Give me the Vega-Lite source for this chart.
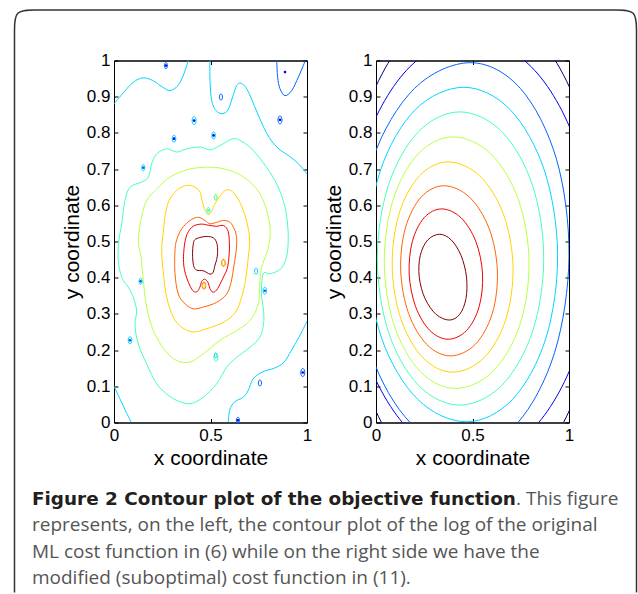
{
"$schema": "https://vega.github.io/schema/vega-lite/v6.json",
"padding": {"left": 11, "top": 6.5, "right": 0, "bottom": 0},
"background": "white",
"config": {
 "view": {"stroke": "black", "strokeWidth": 1},
 "axis": {"labelFont": "Liberation Sans", "titleFont": "Liberation Sans", "labelFontSize": 17, "titleFontSize": 21, "titleFontWeight": "normal", "labelColor": "black", "titleColor": "black", "domainColor": "black", "tickColor": "black", "grid": false, "domainWidth": 1, "tickWidth": 1}
},
"datasets": {
 "ax": [{"x": 0, "y": 0}, {"x": 1, "y": 1}],
 "lo": [
  {"id":"c1","k":3,"i":0,"x":0,"y":0.88},{"id":"c1","k":3,"i":1,"x":0.05,"y":0.912},{"id":"c1","k":3,"i":2,"x":0.1,"y":0.94},{"id":"c1","k":3,"i":3,"x":0.15,"y":0.952},{"id":"c1","k":3,"i":4,"x":0.2,"y":0.945},{"id":"c1","k":3,"i":5,"x":0.25,"y":0.927},{"id":"c1","k":3,"i":6,"x":0.29,"y":0.917},{"id":"c1","k":3,"i":7,"x":0.33,"y":0.93},{"id":"c1","k":3,"i":8,"x":0.36,"y":0.96},{"id":"c1","k":3,"i":9,"x":0.385,"y":1.0},
  {"id":"c2","k":3,"i":0,"x":0.497,"y":1.0},{"id":"c2","k":3,"i":1,"x":0.497,"y":0.955},{"id":"c2","k":3,"i":2,"x":0.503,"y":0.9},{"id":"c2","k":3,"i":3,"x":0.52,"y":0.868},{"id":"c2","k":3,"i":4,"x":0.555,"y":0.853},{"id":"c2","k":3,"i":5,"x":0.59,"y":0.863},{"id":"c2","k":3,"i":6,"x":0.615,"y":0.9},{"id":"c2","k":3,"i":7,"x":0.635,"y":0.93},{"id":"c2","k":3,"i":8,"x":0.658,"y":0.937},{"id":"c2","k":3,"i":9,"x":0.69,"y":0.92},{"id":"c2","k":3,"i":10,"x":0.735,"y":0.865},{"id":"c2","k":3,"i":11,"x":0.79,"y":0.8},{"id":"c2","k":3,"i":12,"x":0.845,"y":0.76},{"id":"c2","k":3,"i":13,"x":0.91,"y":0.735},{"id":"c2","k":3,"i":14,"x":0.955,"y":0.715},{"id":"c2","k":3,"i":15,"x":1.0,"y":0.687},
  {"id":"c3","k":3,"i":0,"x":0,"y":0.1},{"id":"c3","k":3,"i":1,"x":0.03,"y":0.066},{"id":"c3","k":3,"i":2,"x":0.06,"y":0.032},{"id":"c3","k":3,"i":3,"x":0.09,"y":0},
  {"id":"c4","k":3,"i":0,"x":0.592,"y":0},{"id":"c4","k":3,"i":1,"x":0.6,"y":0.035},{"id":"c4","k":3,"i":2,"x":0.625,"y":0.057},{"id":"c4","k":3,"i":3,"x":0.67,"y":0.07},{"id":"c4","k":3,"i":4,"x":0.697,"y":0.09},{"id":"c4","k":3,"i":5,"x":0.72,"y":0.12},{"id":"c4","k":3,"i":6,"x":0.77,"y":0.14},{"id":"c4","k":3,"i":7,"x":0.83,"y":0.15},{"id":"c4","k":3,"i":8,"x":0.88,"y":0.166},{"id":"c4","k":3,"i":9,"x":0.92,"y":0.2},{"id":"c4","k":3,"i":10,"x":0.965,"y":0.242},{"id":"c4","k":3,"i":11,"x":1.0,"y":0.28},
  {"id":"c5","k":2,"i":0,"x":0.843,"y":1.0},{"id":"c5","k":2,"i":1,"x":0.848,"y":0.954},{"id":"c5","k":2,"i":2,"x":0.86,"y":0.922},{"id":"c5","k":2,"i":3,"x":0.886,"y":0.903},{"id":"c5","k":2,"i":4,"x":0.921,"y":0.917},{"id":"c5","k":2,"i":5,"x":0.955,"y":0.954},{"id":"c5","k":2,"i":6,"x":0.981,"y":0.986},{"id":"c5","k":2,"i":7,"x":0.99,"y":1.0}
 ],
 "lr": [
  {"id":"a","k":4,"i":0,"x":0.025,"y":0.5},{"id":"a","k":4,"i":1,"x":0.04,"y":0.55},{"id":"a","k":4,"i":2,"x":0.057,"y":0.613},{"id":"a","k":4,"i":3,"x":0.083,"y":0.65},{"id":"a","k":4,"i":4,"x":0.143,"y":0.664},{"id":"a","k":4,"i":5,"x":0.178,"y":0.678},{"id":"a","k":4,"i":6,"x":0.195,"y":0.715},{"id":"a","k":4,"i":7,"x":0.221,"y":0.742},{"id":"a","k":4,"i":8,"x":0.273,"y":0.756},{"id":"a","k":4,"i":9,"x":0.325,"y":0.747},{"id":"a","k":4,"i":10,"x":0.377,"y":0.756},{"id":"a","k":4,"i":11,"x":0.446,"y":0.761},{"id":"a","k":4,"i":12,"x":0.497,"y":0.753},{"id":"a","k":4,"i":13,"x":0.549,"y":0.765},{"id":"a","k":4,"i":14,"x":0.618,"y":0.784},{"id":"a","k":4,"i":15,"x":0.67,"y":0.774},{"id":"a","k":4,"i":16,"x":0.722,"y":0.751},{"id":"a","k":4,"i":17,"x":0.791,"y":0.705},{"id":"a","k":4,"i":18,"x":0.843,"y":0.659},{"id":"a","k":4,"i":19,"x":0.877,"y":0.613},{"id":"a","k":4,"i":20,"x":0.895,"y":0.567},{"id":"a","k":4,"i":21,"x":0.903,"y":0.512},{"id":"a","k":4,"i":22,"x":0.895,"y":0.46},{"id":"a","k":4,"i":23,"x":0.865,"y":0.425},{"id":"a","k":4,"i":24,"x":0.81,"y":0.411},{"id":"a","k":4,"i":25,"x":0.775,"y":0.413},{"id":"a","k":4,"i":26,"x":0.765,"y":0.383},{"id":"a","k":4,"i":27,"x":0.765,"y":0.346},{"id":"a","k":4,"i":28,"x":0.775,"y":0.309},{"id":"a","k":4,"i":29,"x":0.775,"y":0.273},{"id":"a","k":4,"i":30,"x":0.756,"y":0.236},{"id":"a","k":4,"i":31,"x":0.705,"y":0.208},{"id":"a","k":4,"i":32,"x":0.636,"y":0.18},{"id":"a","k":4,"i":33,"x":0.584,"y":0.153},{"id":"a","k":4,"i":34,"x":0.532,"y":0.107},{"id":"a","k":4,"i":35,"x":0.463,"y":0.07},{"id":"a","k":4,"i":36,"x":0.394,"y":0.052},{"id":"a","k":4,"i":37,"x":0.325,"y":0.061},{"id":"a","k":4,"i":38,"x":0.273,"y":0.079},{"id":"a","k":4,"i":39,"x":0.221,"y":0.107},{"id":"a","k":4,"i":40,"x":0.169,"y":0.162},{"id":"a","k":4,"i":41,"x":0.126,"y":0.217},{"id":"a","k":4,"i":42,"x":0.109,"y":0.268},{"id":"a","k":4,"i":43,"x":0.117,"y":0.309},{"id":"a","k":4,"i":44,"x":0.1,"y":0.346},{"id":"a","k":4,"i":45,"x":0.074,"y":0.374},{"id":"a","k":4,"i":46,"x":0.04,"y":0.401},{"id":"a","k":4,"i":47,"x":0.022,"y":0.448},
  {"id":"g","k":5,"i":0,"x":0.126,"y":0.503},{"id":"g","k":5,"i":1,"x":0.143,"y":0.567},{"id":"g","k":5,"i":2,"x":0.169,"y":0.613},{"id":"g","k":5,"i":3,"x":0.221,"y":0.645},{"id":"g","k":5,"i":4,"x":0.29,"y":0.678},{"id":"g","k":5,"i":5,"x":0.377,"y":0.698},{"id":"g","k":5,"i":6,"x":0.463,"y":0.705},{"id":"g","k":5,"i":7,"x":0.549,"y":0.703},{"id":"g","k":5,"i":8,"x":0.636,"y":0.689},{"id":"g","k":5,"i":9,"x":0.705,"y":0.664},{"id":"g","k":5,"i":10,"x":0.756,"y":0.632},{"id":"g","k":5,"i":11,"x":0.791,"y":0.586},{"id":"g","k":5,"i":12,"x":0.808,"y":0.54},{"id":"g","k":5,"i":13,"x":0.806,"y":0.5},{"id":"g","k":5,"i":14,"x":0.791,"y":0.468},{"id":"g","k":5,"i":15,"x":0.765,"y":0.429},{"id":"g","k":5,"i":16,"x":0.756,"y":0.392},{"id":"g","k":5,"i":17,"x":0.748,"y":0.328},{"id":"g","k":5,"i":18,"x":0.705,"y":0.282},{"id":"g","k":5,"i":19,"x":0.636,"y":0.254},{"id":"g","k":5,"i":20,"x":0.549,"y":0.227},{"id":"g","k":5,"i":21,"x":0.463,"y":0.19},{"id":"g","k":5,"i":22,"x":0.394,"y":0.167},{"id":"g","k":5,"i":23,"x":0.325,"y":0.171},{"id":"g","k":5,"i":24,"x":0.264,"y":0.199},{"id":"g","k":5,"i":25,"x":0.204,"y":0.254},{"id":"g","k":5,"i":26,"x":0.169,"y":0.319},{"id":"g","k":5,"i":27,"x":0.152,"y":0.392},{"id":"g","k":5,"i":28,"x":0.14,"y":0.457},
  {"id":"o","k":6,"i":0,"x":0.247,"y":0.475},{"id":"o","k":6,"i":1,"x":0.256,"y":0.53},{"id":"o","k":6,"i":2,"x":0.266,"y":0.575},{"id":"o","k":6,"i":3,"x":0.285,"y":0.613},{"id":"o","k":6,"i":4,"x":0.325,"y":0.641},{"id":"o","k":6,"i":5,"x":0.377,"y":0.655},{"id":"o","k":6,"i":6,"x":0.42,"y":0.65},{"id":"o","k":6,"i":7,"x":0.446,"y":0.636},{"id":"o","k":6,"i":8,"x":0.456,"y":0.613},{"id":"o","k":6,"i":9,"x":0.472,"y":0.586},{"id":"o","k":6,"i":10,"x":0.489,"y":0.574},{"id":"o","k":6,"i":11,"x":0.506,"y":0.584},{"id":"o","k":6,"i":12,"x":0.523,"y":0.604},{"id":"o","k":6,"i":13,"x":0.549,"y":0.625},{"id":"o","k":6,"i":14,"x":0.575,"y":0.641},{"id":"o","k":6,"i":15,"x":0.605,"y":0.641},{"id":"o","k":6,"i":16,"x":0.638,"y":0.622},{"id":"o","k":6,"i":17,"x":0.67,"y":0.586},{"id":"o","k":6,"i":18,"x":0.694,"y":0.54},{"id":"o","k":6,"i":19,"x":0.703,"y":0.503},{"id":"o","k":6,"i":20,"x":0.696,"y":0.457},{"id":"o","k":6,"i":21,"x":0.681,"y":0.392},{"id":"o","k":6,"i":22,"x":0.661,"y":0.346},{"id":"o","k":6,"i":23,"x":0.63,"y":0.305},{"id":"o","k":6,"i":24,"x":0.567,"y":0.277},{"id":"o","k":6,"i":25,"x":0.48,"y":0.259},{"id":"o","k":6,"i":26,"x":0.411,"y":0.25},{"id":"o","k":6,"i":27,"x":0.351,"y":0.263},{"id":"o","k":6,"i":28,"x":0.307,"y":0.291},{"id":"o","k":6,"i":29,"x":0.273,"y":0.346},{"id":"o","k":6,"i":30,"x":0.256,"y":0.411},
  {"id":"r","k":7,"i":0,"x":0.316,"y":0.475},{"id":"r","k":7,"i":1,"x":0.325,"y":0.505},{"id":"r","k":7,"i":2,"x":0.351,"y":0.535},{"id":"r","k":7,"i":3,"x":0.394,"y":0.558},{"id":"r","k":7,"i":4,"x":0.437,"y":0.567},{"id":"r","k":7,"i":5,"x":0.472,"y":0.558},{"id":"r","k":7,"i":6,"x":0.497,"y":0.549},{"id":"r","k":7,"i":7,"x":0.532,"y":0.553},{"id":"r","k":7,"i":8,"x":0.567,"y":0.558},{"id":"r","k":7,"i":9,"x":0.601,"y":0.553},{"id":"r","k":7,"i":10,"x":0.627,"y":0.53},{"id":"r","k":7,"i":11,"x":0.636,"y":0.503},{"id":"r","k":7,"i":12,"x":0.632,"y":0.47},{"id":"r","k":7,"i":13,"x":0.62,"y":0.429},{"id":"r","k":7,"i":14,"x":0.608,"y":0.39},{"id":"r","k":7,"i":15,"x":0.584,"y":0.355},{"id":"r","k":7,"i":16,"x":0.532,"y":0.332},{"id":"r","k":7,"i":17,"x":0.463,"y":0.319},{"id":"r","k":7,"i":18,"x":0.411,"y":0.314},{"id":"r","k":7,"i":19,"x":0.368,"y":0.328},{"id":"r","k":7,"i":20,"x":0.333,"y":0.355},{"id":"r","k":7,"i":21,"x":0.316,"y":0.411},
  {"id":"e","k":8,"i":0,"x":0.36,"y":0.45},{"id":"e","k":8,"i":1,"x":0.365,"y":0.49},{"id":"e","k":8,"i":2,"x":0.38,"y":0.522},{"id":"e","k":8,"i":3,"x":0.41,"y":0.542},{"id":"e","k":8,"i":4,"x":0.45,"y":0.548},{"id":"e","k":8,"i":5,"x":0.49,"y":0.545},{"id":"e","k":8,"i":6,"x":0.53,"y":0.542},{"id":"e","k":8,"i":7,"x":0.568,"y":0.544},{"id":"e","k":8,"i":8,"x":0.592,"y":0.527},{"id":"e","k":8,"i":9,"x":0.598,"y":0.49},{"id":"e","k":8,"i":10,"x":0.596,"y":0.46},{"id":"e","k":8,"i":11,"x":0.592,"y":0.44},{"id":"e","k":8,"i":12,"x":0.585,"y":0.422},{"id":"e","k":8,"i":13,"x":0.57,"y":0.405},{"id":"e","k":8,"i":14,"x":0.552,"y":0.385},{"id":"e","k":8,"i":15,"x":0.532,"y":0.366},{"id":"e","k":8,"i":16,"x":0.512,"y":0.36},{"id":"e","k":8,"i":17,"x":0.497,"y":0.37},{"id":"e","k":8,"i":18,"x":0.487,"y":0.387},{"id":"e","k":8,"i":19,"x":0.47,"y":0.396},{"id":"e","k":8,"i":20,"x":0.455,"y":0.39},{"id":"e","k":8,"i":21,"x":0.445,"y":0.374},{"id":"e","k":8,"i":22,"x":0.432,"y":0.362},{"id":"e","k":8,"i":23,"x":0.413,"y":0.362},{"id":"e","k":8,"i":24,"x":0.395,"y":0.376},{"id":"e","k":8,"i":25,"x":0.378,"y":0.398},{"id":"e","k":8,"i":26,"x":0.365,"y":0.422},
  {"id":"d","k":9,"i":0,"x":0.411,"y":0.494},{"id":"d","k":9,"i":1,"x":0.419,"y":0.505},{"id":"d","k":9,"i":2,"x":0.445,"y":0.511},{"id":"d","k":9,"i":3,"x":0.48,"y":0.514},{"id":"d","k":9,"i":4,"x":0.515,"y":0.51},{"id":"d","k":9,"i":5,"x":0.533,"y":0.495},{"id":"d","k":9,"i":6,"x":0.537,"y":0.47},{"id":"d","k":9,"i":7,"x":0.532,"y":0.45},{"id":"d","k":9,"i":8,"x":0.522,"y":0.432},{"id":"d","k":9,"i":9,"x":0.514,"y":0.415},{"id":"d","k":9,"i":10,"x":0.497,"y":0.41},{"id":"d","k":9,"i":11,"x":0.463,"y":0.419},{"id":"d","k":9,"i":12,"x":0.428,"y":0.421},{"id":"d","k":9,"i":13,"x":0.412,"y":0.434},{"id":"d","k":9,"i":14,"x":0.407,"y":0.466}
 ],
 "lov": [
  {"x":0.269,"y":0.986,"k":2,"sz":"s"},{"x":0.554,"y":0.899,"k":2,"sz":"s"},{"x":0.415,"y":0.834,"k":3,"sz":"l"},{"x":0.311,"y":0.784,"k":3,"sz":"m"},{"x":0.516,"y":0.793,"k":3,"sz":"m"},{"x":0.152,"y":0.704,"k":3,"sz":"s"},{"x":0.489,"y":0.586,"k":4,"sz":"s"},{"x":0.527,"y":0.622,"k":5,"sz":"s"},{"x":0.138,"y":0.39,"k":3,"sz":"s"},{"x":0.736,"y":0.418,"k":3,"sz":"s"},{"x":0.781,"y":0.364,"k":3,"sz":"m"},{"x":0.083,"y":0.227,"k":3,"sz":"m"},{"x":0.756,"y":0.109,"k":2,"sz":"s"},{"x":0.642,"y":0.006,"k":2,"sz":"s"},{"x":0.466,"y":0.378,"k":7,"sz":"m"},{"x":0.567,"y":0.441,"k":7,"sz":"m"},{"x":0.528,"y":0.18,"k":4,"sz":"l"},{"x":0.527,"y":0.185,"k":3,"sz":"t"},{"x":0.86,"y":0.836,"k":2,"sz":"l"},{"x":0.978,"y":0.138,"k":2,"sz":"l"},{"x":0.466,"y":0.378,"k":6,"sz":"t"},{"x":0.567,"y":0.441,"k":6,"sz":"t"},{"x":0.527,"y":0.622,"k":4,"sz":"t"}
 ],
 "ld": [
  {"x":0.269,"y":0.986,"k":1},{"x":0.886,"y":0.968,"k":1},{"x":0.86,"y":0.836,"k":1},{"x":0.415,"y":0.834,"k":1},{"x":0.311,"y":0.784,"k":1},{"x":0.516,"y":0.793,"k":1},{"x":0.152,"y":0.704,"k":2},{"x":0.138,"y":0.39,"k":2},{"x":0.781,"y":0.364,"k":2},{"x":0.083,"y":0.227,"k":2},{"x":0.978,"y":0.138,"k":1},{"x":0.642,"y":0.006,"k":1},{"x":0.489,"y":0.586,"k":4}
 ],
 "rr": [
  {"id":"R9","k":9,"i":0,"x":0.469,"y":0.4015},{"id":"R9","k":9,"i":1,"x":0.4412,"y":0.4608},{"id":"R9","k":9,"i":2,"x":0.3903,"y":0.5041},{"id":"R9","k":9,"i":3,"x":0.33,"y":0.52},{"id":"R9","k":9,"i":4,"x":0.2678,"y":0.5041},{"id":"R9","k":9,"i":5,"x":0.2291,"y":0.4608},{"id":"R9","k":9,"i":6,"x":0.224,"y":0.4015},{"id":"R9","k":9,"i":7,"x":0.2541,"y":0.3423},{"id":"R9","k":9,"i":8,"x":0.3112,"y":0.2989},{"id":"R9","k":9,"i":9,"x":0.38,"y":0.283},{"id":"R9","k":9,"i":10,"x":0.4337,"y":0.2989},{"id":"R9","k":9,"i":11,"x":0.4662,"y":0.3423},
  {"id":"R8","k":8,"i":0,"x":0.552,"y":0.41},{"id":"R8","k":8,"i":1,"x":0.5174,"y":0.5},{"id":"R8","k":8,"i":2,"x":0.4398,"y":0.5659},{"id":"R8","k":8,"i":3,"x":0.34,"y":0.59},{"id":"R8","k":8,"i":4,"x":0.2498,"y":0.5659},{"id":"R8","k":8,"i":5,"x":0.1883,"y":0.5},{"id":"R8","k":8,"i":6,"x":0.172,"y":0.41},{"id":"R8","k":8,"i":7,"x":0.2053,"y":0.32},{"id":"R8","k":8,"i":8,"x":0.2792,"y":0.2541},{"id":"R8","k":8,"i":9,"x":0.374,"y":0.23},{"id":"R8","k":8,"i":10,"x":0.4692,"y":0.2541},{"id":"R8","k":8,"i":11,"x":0.5344,"y":0.32},
  {"id":"R7","k":7,"i":0,"x":0.629,"y":0.419},{"id":"R7","k":7,"i":1,"x":0.5857,"y":0.5365},{"id":"R7","k":7,"i":2,"x":0.4843,"y":0.6225},{"id":"R7","k":7,"i":3,"x":0.352,"y":0.654},{"id":"R7","k":7,"i":4,"x":0.2338,"y":0.6225},{"id":"R7","k":7,"i":5,"x":0.1518,"y":0.5365},{"id":"R7","k":7,"i":6,"x":0.128,"y":0.419},{"id":"R7","k":7,"i":7,"x":0.1688,"y":0.3015},{"id":"R7","k":7,"i":8,"x":0.2632,"y":0.2155},{"id":"R7","k":7,"i":9,"x":0.386,"y":0.184},{"id":"R7","k":7,"i":10,"x":0.5137,"y":0.2155},{"id":"R7","k":7,"i":11,"x":0.6027,"y":0.3015},
  {"id":"R6","k":6,"i":0,"x":0.71,"y":0.4295},{"id":"R6","k":6,"i":1,"x":0.6607,"y":0.5748},{"id":"R6","k":6,"i":2,"x":0.5378,"y":0.6811},{"id":"R6","k":6,"i":3,"x":0.374,"y":0.72},{"id":"R6","k":6,"i":4,"x":0.2247,"y":0.6811},{"id":"R6","k":6,"i":5,"x":0.1186,"y":0.5748},{"id":"R6","k":6,"i":6,"x":0.084,"y":0.4295},{"id":"R6","k":6,"i":7,"x":0.1302,"y":0.2843},{"id":"R6","k":6,"i":8,"x":0.2447,"y":0.1779},{"id":"R6","k":6,"i":9,"x":0.397,"y":0.139},{"id":"R6","k":6,"i":10,"x":0.5578,"y":0.1779},{"id":"R6","k":6,"i":11,"x":0.6723,"y":0.2843},
  {"id":"R5","k":5,"i":0,"x":0.793,"y":0.4415},{"id":"R5","k":5,"i":1,"x":0.7381,"y":0.6153},{"id":"R5","k":5,"i":2,"x":0.5943,"y":0.7424},{"id":"R5","k":5,"i":3,"x":0.4,"y":0.789},{"id":"R5","k":5,"i":4,"x":0.2193,"y":0.7424},{"id":"R5","k":5,"i":5,"x":0.0886,"y":0.6153},{"id":"R5","k":5,"i":6,"x":0.043,"y":0.4415},{"id":"R5","k":5,"i":7,"x":0.0946,"y":0.2677},{"id":"R5","k":5,"i":8,"x":0.2297,"y":0.1406},{"id":"R5","k":5,"i":9,"x":0.412,"y":0.094},{"id":"R5","k":5,"i":10,"x":0.6047,"y":0.1406},{"id":"R5","k":5,"i":11,"x":0.7441,"y":0.2677},
  {"id":"R4","k":4,"i":0,"x":0.869,"y":0.453},{"id":"R4","k":4,"i":1,"x":0.8107,"y":0.6555},{"id":"R4","k":4,"i":2,"x":0.6515,"y":0.8037},{"id":"R4","k":4,"i":3,"x":0.434,"y":0.858},{"id":"R4","k":4,"i":4,"x":0.2205,"y":0.8037},{"id":"R4","k":4,"i":5,"x":0.0642,"y":0.6555},{"id":"R4","k":4,"i":6,"x":0.007,"y":0.453},{"id":"R4","k":4,"i":7,"x":0.0642,"y":0.2505},{"id":"R4","k":4,"i":8,"x":0.2205,"y":0.1023},{"id":"R4","k":4,"i":9,"x":0.434,"y":0.048},{"id":"R4","k":4,"i":10,"x":0.6515,"y":0.1023},{"id":"R4","k":4,"i":11,"x":0.8107,"y":0.2505},
  {"id":"R3","k":3,"i":0,"x":0.941,"y":0.464},{"id":"R3","k":3,"i":1,"x":0.8733,"y":0.695},{"id":"R3","k":3,"i":2,"x":0.6954,"y":0.8641},{"id":"R3","k":3,"i":3,"x":0.455,"y":0.926},{"id":"R3","k":3,"i":4,"x":0.2039,"y":0.8641},{"id":"R3","k":3,"i":5,"x":0.022,"y":0.695},{"id":"R3","k":3,"i":6,"x":-0.042,"y":0.464},{"id":"R3","k":3,"i":7,"x":0.029,"y":0.233},{"id":"R3","k":3,"i":8,"x":0.2161,"y":0.0639},{"id":"R3","k":3,"i":9,"x":0.469,"y":0.002},{"id":"R3","k":3,"i":10,"x":0.7076,"y":0.0639},{"id":"R3","k":3,"i":11,"x":0.8803,"y":0.233},
  {"id":"R2","k":2,"i":0,"x":1.0,"y":0.46},{"id":"R2","k":2,"i":1,"x":0.9353,"y":0.727},{"id":"R2","k":2,"i":2,"x":0.7487,"y":0.9224},{"id":"R2","k":2,"i":3,"x":0.49,"y":0.994},{"id":"R2","k":2,"i":4,"x":0.1987,"y":0.9224},{"id":"R2","k":2,"i":5,"x":-0.0173,"y":0.727},{"id":"R2","k":2,"i":6,"x":-0.1,"y":0.46},{"id":"R2","k":2,"i":7,"x":-0.0273,"y":0.193},{"id":"R2","k":2,"i":8,"x":0.1813,"y":-0.0024},{"id":"R2","k":2,"i":9,"x":0.47,"y":-0.074},{"id":"R2","k":2,"i":10,"x":0.7313,"y":-0.0024},{"id":"R2","k":2,"i":11,"x":0.9253,"y":0.193},
  {"id":"R1","k":1,"i":0,"x":1.12,"y":0.48},{"id":"R1","k":1,"i":1,"x":1.0356,"y":0.77},{"id":"R1","k":1,"i":2,"x":0.805,"y":0.9823},{"id":"R1","k":1,"i":3,"x":0.49,"y":1.06},{"id":"R1","k":1,"i":4,"x":0.175,"y":0.9823},{"id":"R1","k":1,"i":5,"x":-0.0556,"y":0.77},{"id":"R1","k":1,"i":6,"x":-0.14,"y":0.48},{"id":"R1","k":1,"i":7,"x":-0.0556,"y":0.19},{"id":"R1","k":1,"i":8,"x":0.175,"y":-0.0223},{"id":"R1","k":1,"i":9,"x":0.49,"y":-0.1},{"id":"R1","k":1,"i":10,"x":0.805,"y":-0.0223},{"id":"R1","k":1,"i":11,"x":1.0356,"y":0.19},
  {"id":"R0","k":0,"i":0,"x":1.167,"y":0.48},{"id":"R0","k":0,"i":1,"x":1.0776,"y":0.8205},{"id":"R0","k":0,"i":2,"x":0.8335,"y":1.0697},{"id":"R0","k":0,"i":3,"x":0.5,"y":1.161},{"id":"R0","k":0,"i":4,"x":0.1665,"y":1.0697},{"id":"R0","k":0,"i":5,"x":-0.0776,"y":0.8205},{"id":"R0","k":0,"i":6,"x":-0.167,"y":0.48},{"id":"R0","k":0,"i":7,"x":-0.0776,"y":0.1395},{"id":"R0","k":0,"i":8,"x":0.1665,"y":-0.1097},{"id":"R0","k":0,"i":9,"x":0.5,"y":-0.201},{"id":"R0","k":0,"i":10,"x":0.8335,"y":-0.1097},{"id":"R0","k":0,"i":11,"x":1.0776,"y":0.1395}
 ],
 "frame": [
  {"i":0,"fx":0,"fy":1},{"i":1,"fx":0,"fy":0.07},{"i":2,"fx":0,"fy":0.034},{"i":3,"fx":0,"fy":0},{"i":4,"fx":0.032,"fy":0},{"i":5,"fx":0.07,"fy":0},{"i":6,"fx":0.93,"fy":0},{"i":7,"fx":0.968,"fy":0},{"i":8,"fx":1,"fy":0},{"i":9,"fx":1,"fy":0.034},{"i":10,"fx":1,"fy":0.07},{"i":11,"fx":1,"fy":1}
 ],
 "cap": [
  {"line":1,"cx":0.0281,"w":"b","t":"Figure 2 Contour plot of the objective function"},
  {"line":1,"cx":0.8063,"w":"n","t":". This figure"},
  {"line":2,"cx":0.0281,"w":"n","t":"represents, on the left, the contour plot of the log of the original"},
  {"line":3,"cx":0.0281,"w":"n","t":"ML cost function in (6) while on the right side we have the"},
  {"line":4,"cx":0.0281,"w":"n","t":"modified (suboptimal) cost function in (11)."}
 ]
},
"concat": [
  {"width": 193, "height": 362,
   "layer": [
    {"data": {"name": "lo"}, "mark": {"type": "line", "interpolate": "cardinal", "strokeWidth": 1, "clip": true},
     "encoding": {
      "x": {"field": "x", "type": "quantitative", "scale": {"domain": [0, 1], "nice": false}, "axis": {"orient": "bottom", "values": [0, 0.5, 1], "format": "~g", "labelFlush": false, "tickSize": -4, "labelPadding": 9, "title": "x coordinate", "titlePadding": 4}},
      "y": {"field": "y", "type": "quantitative", "scale": {"domain": [0, 1], "nice": false}, "axis": {"orient": "left", "values": [0, 0.1, 0.2, 0.3, 0.4, 0.5, 0.6, 0.7, 0.8, 0.9, 1], "format": "~g", "tickSize": -4, "labelPadding": 8, "title": "y coordinate", "titlePadding": 4}},
      "color": {"field": "k", "type": "ordinal", "scale": {"domain": [0,1,2,3,4,5,6,7,8,9], "range": ["#000080","#0000f1","#0063ff","#00d4ff","#47ffb8","#b8ff47","#ffd400","#ff6300","#f10000","#800000"]}, "legend": null},
      "detail": {"field": "id"}, "order": {"field": "i", "type": "quantitative"}}},
    {"data": {"name": "lr"}, "mark": {"type": "line", "interpolate": "cardinal-closed", "strokeWidth": 1, "clip": true},
     "encoding": {
      "x": {"field": "x", "type": "quantitative", "scale": {"domain": [0, 1], "nice": false}, "axis": null},
      "y": {"field": "y", "type": "quantitative", "scale": {"domain": [0, 1], "nice": false}, "axis": null},
      "color": {"field": "k", "type": "ordinal", "legend": null},
      "detail": {"field": "id"}, "order": {"field": "i", "type": "quantitative"}}},
    {"data": {"name": "lov"}, "mark": {"type": "point", "shape": "M0,-1A0.5,1,0,1,1,0,1A0.5,1,0,1,1,0,-1Z", "filled": false, "strokeWidth": 1, "opacity": 1},
     "encoding": {
      "x": {"field": "x", "type": "quantitative", "axis": null},
      "y": {"field": "y", "type": "quantitative", "axis": null},
      "color": {"field": "k", "type": "ordinal", "legend": null},
      "size": {"field": "sz", "type": "ordinal", "scale": {"domain": ["t","s","m","l"], "range": [25, 64, 144, 484]}, "legend": null}}},
    {"data": {"name": "ld"}, "mark": {"type": "circle", "size": 7, "opacity": 1},
     "encoding": {
      "x": {"field": "x", "type": "quantitative", "axis": null},
      "y": {"field": "y", "type": "quantitative", "axis": null},
      "color": {"field": "k", "type": "ordinal", "legend": null}}},
    {"data": {"name": "ax"}, "mark": {"type": "point", "opacity": 0, "size": 1},
     "encoding": {
      "x": {"field": "x", "type": "quantitative", "axis": {"orient": "top", "values": [0, 0.5, 1], "labels": false, "tickSize": -4, "title": null}},
      "y": {"field": "y", "type": "quantitative", "axis": {"orient": "right", "values": [0, 0.1, 0.2, 0.3, 0.4, 0.5, 0.6, 0.7, 0.8, 0.9, 1], "labels": false, "tickSize": -4, "title": null}}}}
   ],
   "resolve": {"axis": {"x": "independent", "y": "independent"}}
  },
  {"width": 193, "height": 362,
   "layer": [
    {"data": {"name": "rr"}, "mark": {"type": "line", "interpolate": "cardinal-closed", "strokeWidth": 1, "clip": true},
     "encoding": {
      "x": {"field": "x", "type": "quantitative", "scale": {"domain": [0, 1], "nice": false}, "axis": {"orient": "bottom", "values": [0, 0.5, 1], "format": "~g", "labelFlush": false, "tickSize": -4, "labelPadding": 9, "title": "x coordinate", "titlePadding": 4}},
      "y": {"field": "y", "type": "quantitative", "scale": {"domain": [0, 1], "nice": false}, "axis": {"orient": "left", "values": [0, 0.1, 0.2, 0.3, 0.4, 0.5, 0.6, 0.7, 0.8, 0.9, 1], "format": "~g", "tickSize": -4, "labelPadding": 8, "title": "y coordinate", "titlePadding": 4}},
      "color": {"field": "k", "type": "ordinal", "scale": {"domain": [0,1,2,3,4,5,6,7,8,9], "range": ["#000080","#0000f1","#0063ff","#00d4ff","#47ffb8","#b8ff47","#ffd400","#ff6300","#f10000","#800000"]}, "legend": null},
      "detail": {"field": "id"}, "order": {"field": "i", "type": "quantitative"}}},
    {"data": {"name": "ax"}, "mark": {"type": "point", "opacity": 0, "size": 1},
     "encoding": {
      "x": {"field": "x", "type": "quantitative", "axis": {"orient": "top", "values": [0, 0.5, 1], "labels": false, "tickSize": -4, "title": null}},
      "y": {"field": "y", "type": "quantitative", "axis": {"orient": "right", "values": [0, 0.1, 0.2, 0.3, 0.4, 0.5, 0.6, 0.7, 0.8, 0.9, 1], "labels": false, "tickSize": -4, "title": null}}}}
   ],
   "resolve": {"axis": {"x": "independent", "y": "independent"}}
  },
  {"width": 193, "height": 160,
   "view": {"stroke": null, "fill": null},
   "layer": [
    {"data": {"name": "frame"}, "mark": {"type": "line", "interpolate": "basis", "stroke": "#333333", "strokeWidth": 1.5},
     "encoding": {
      "x": {"field": "fx", "type": "quantitative", "scale": {"domain": [0, 1], "range": [-99.5, 522.5]}, "axis": null},
      "y": {"field": "fy", "type": "quantitative", "scale": {"domain": [0, 1], "range": [-422.5, 160]}, "axis": null},
      "order": {"field": "i", "type": "quantitative"}}},
    {"data": {"name": "cap"}, "transform": [{"filter": "datum.w == 'b'"}],
     "mark": {"type": "text", "align": "left", "baseline": "alphabetic", "font": "DejaVu Sans", "fontWeight": "bold", "fontSize": 18.4, "color": "#231f20"},
     "encoding": {
      "x": {"field": "cx", "type": "quantitative", "scale": {"domain": [0, 1], "range": [-99.5, 522.5]}, "axis": null},
      "y": {"field": "line", "type": "quantitative", "scale": {"domain": [1, 4], "range": [72, 151.5]}, "axis": null},
      "text": {"field": "t"}}},
    {"data": {"name": "cap"}, "transform": [{"filter": "datum.w == 'n'"}],
     "mark": {"type": "text", "align": "left", "baseline": "alphabetic", "font": "Open Sans", "fontSize": 19, "color": "#555555"},
     "encoding": {
      "x": {"field": "cx", "type": "quantitative", "axis": null},
      "y": {"field": "line", "type": "quantitative", "scale": {"domain": [1, 4], "range": [72, 151.5]}, "axis": null},
      "text": {"field": "t"}}}
   ],
   "resolve": {"scale": {"y": "independent"}}
  }
],
"columns": 2,
"spacing": {"row": 10, "column": 69},
"bounds": "flush"
}
